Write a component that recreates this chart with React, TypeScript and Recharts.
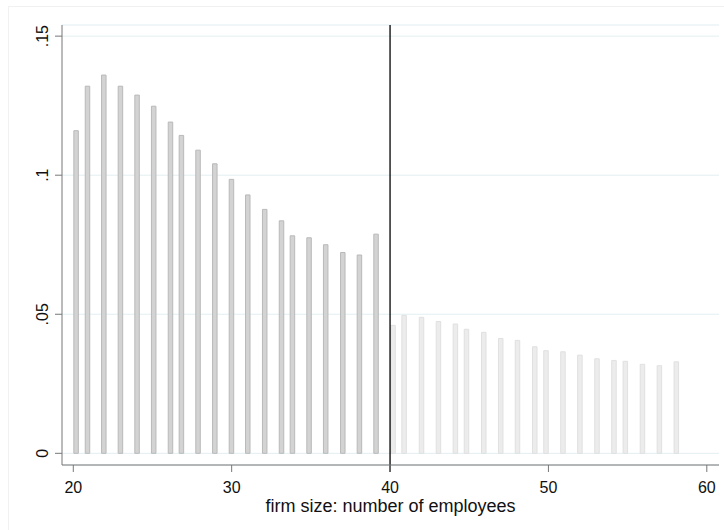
import React from "react";
import {
  ComposedChart,
  Bar,
  Cell,
  XAxis,
  YAxis,
  CartesianGrid,
  ReferenceLine,
  Label,
} from "recharts";

// Firm size (x position of each bar)
const belowSizes = [20.19, 20.91, 21.94, 22.99, 24.04, 25.09, 26.15, 26.84, 27.89, 28.95, 30.0, 31.03, 32.1, 33.16, 33.85, 34.9, 35.95, 37.03, 38.08, 39.13];
const belowShares = [0.116, 0.132, 0.136, 0.132, 0.1288, 0.1248, 0.1191, 0.1143, 0.109, 0.1041, 0.0985, 0.0929, 0.0877, 0.0836, 0.0782, 0.0775, 0.075, 0.0722, 0.0713, 0.0788];

const aboveSizes = [40.2, 40.9, 42.0, 43.07, 44.14, 44.84, 45.93, 47.0, 48.06, 49.15, 49.86, 50.93, 52.0, 53.08, 54.15, 54.87, 55.95, 57.02, 58.09];
const aboveShares = [0.046, 0.0496, 0.0489, 0.0474, 0.0465, 0.0446, 0.0435, 0.0413, 0.0406, 0.0383, 0.0369, 0.0365, 0.0353, 0.034, 0.0334, 0.0331, 0.032, 0.0315, 0.0329];

const xTicks = [20, 30, 40, 50, 60];
const yTicks = [0, 0.05, 0.1, 0.15];
const threshold = 40;
const xLabel = "firm size: number of employees";

const table = [
  ...belowSizes.map((s, i) => ({ size: s, share: belowShares[i], group: "below" })),
  ...aboveSizes.map((s, i) => ({ size: s, share: aboveShares[i], group: "above" })),
];

const FONT = '"Liberation Sans", Arial, sans-serif';

const fmtY = (v: number) => (v === 0 ? "0" : String(v).replace(/^0/, ""));

const YTick = (props: any) => {
  const { x, y, payload } = props;
  return (
    <text
      x={x}
      y={y}
      transform={`rotate(-90 ${x} ${y})`}
      textAnchor="middle"
      fontSize={16}
      fontFamily={FONT}
      fill="#111"
    >
      {fmtY(payload.value)}
    </text>
  );
};

export default function App() {
  return (
    <div style={{ position: "absolute", left: 0, top: 0, width: 724, height: 530, background: "#fff" }}>
      <div
        style={{
          position: "absolute",
          left: 8,
          top: 6,
          width: 716,
          height: 524,
          borderTop: "1px solid #f1f1f1",
          borderLeft: "1px solid #f1f1f1",
        }}
      />
      <ComposedChart
        width={724}
        height={530}
        data={table}
        margin={{ top: 25, right: 5, bottom: 0, left: 8 }}
        style={{ position: "absolute", left: 0, top: 0 }}
      >
        <CartesianGrid horizontal vertical={false} stroke="#e2eef1" strokeWidth={1} />
        <XAxis
          dataKey="size"
          type="number"
          domain={[19.287, 60.77]}
          ticks={xTicks}
          allowDataOverflow
          height={65}
          tickSize={7}
          tickMargin={10}
          stroke="#777"
          tick={{ fill: "#111", fontSize: 16, fontFamily: FONT }}
        >
          <Label
            value={xLabel}
            position="insideBottom"
            offset={18}
            style={{ fill: "#111", fontSize: 18, fontFamily: FONT }}
          />
        </XAxis>
        <YAxis
          type="number"
          domain={[-0.0042, 0.154]}
          ticks={yTicks}
          allowDataOverflow
          width={54}
          tickSize={7}
          tickMargin={7}
          stroke="#777"
          tick={<YTick />}
        />
        <Bar dataKey="share" barSize={4.5} isAnimationActive={false}>
          {table.map((d, i) => (
            <Cell
              key={i}
              fill={d.group === "below" ? "#d3d3d3" : "#ececec"}
              stroke={d.group === "below" ? "#b9b9b9" : "#e0e0e0"}
              strokeWidth={1}
            />
          ))}
        </Bar>
        <ReferenceLine
          segment={[
            { x: threshold, y: -0.0067 },
            { x: threshold, y: 0.154 },
          ]}
          stroke="#000"
          strokeWidth={1.3}
          ifOverflow="visible"
        />
      </ComposedChart>
    </div>
  );
}
